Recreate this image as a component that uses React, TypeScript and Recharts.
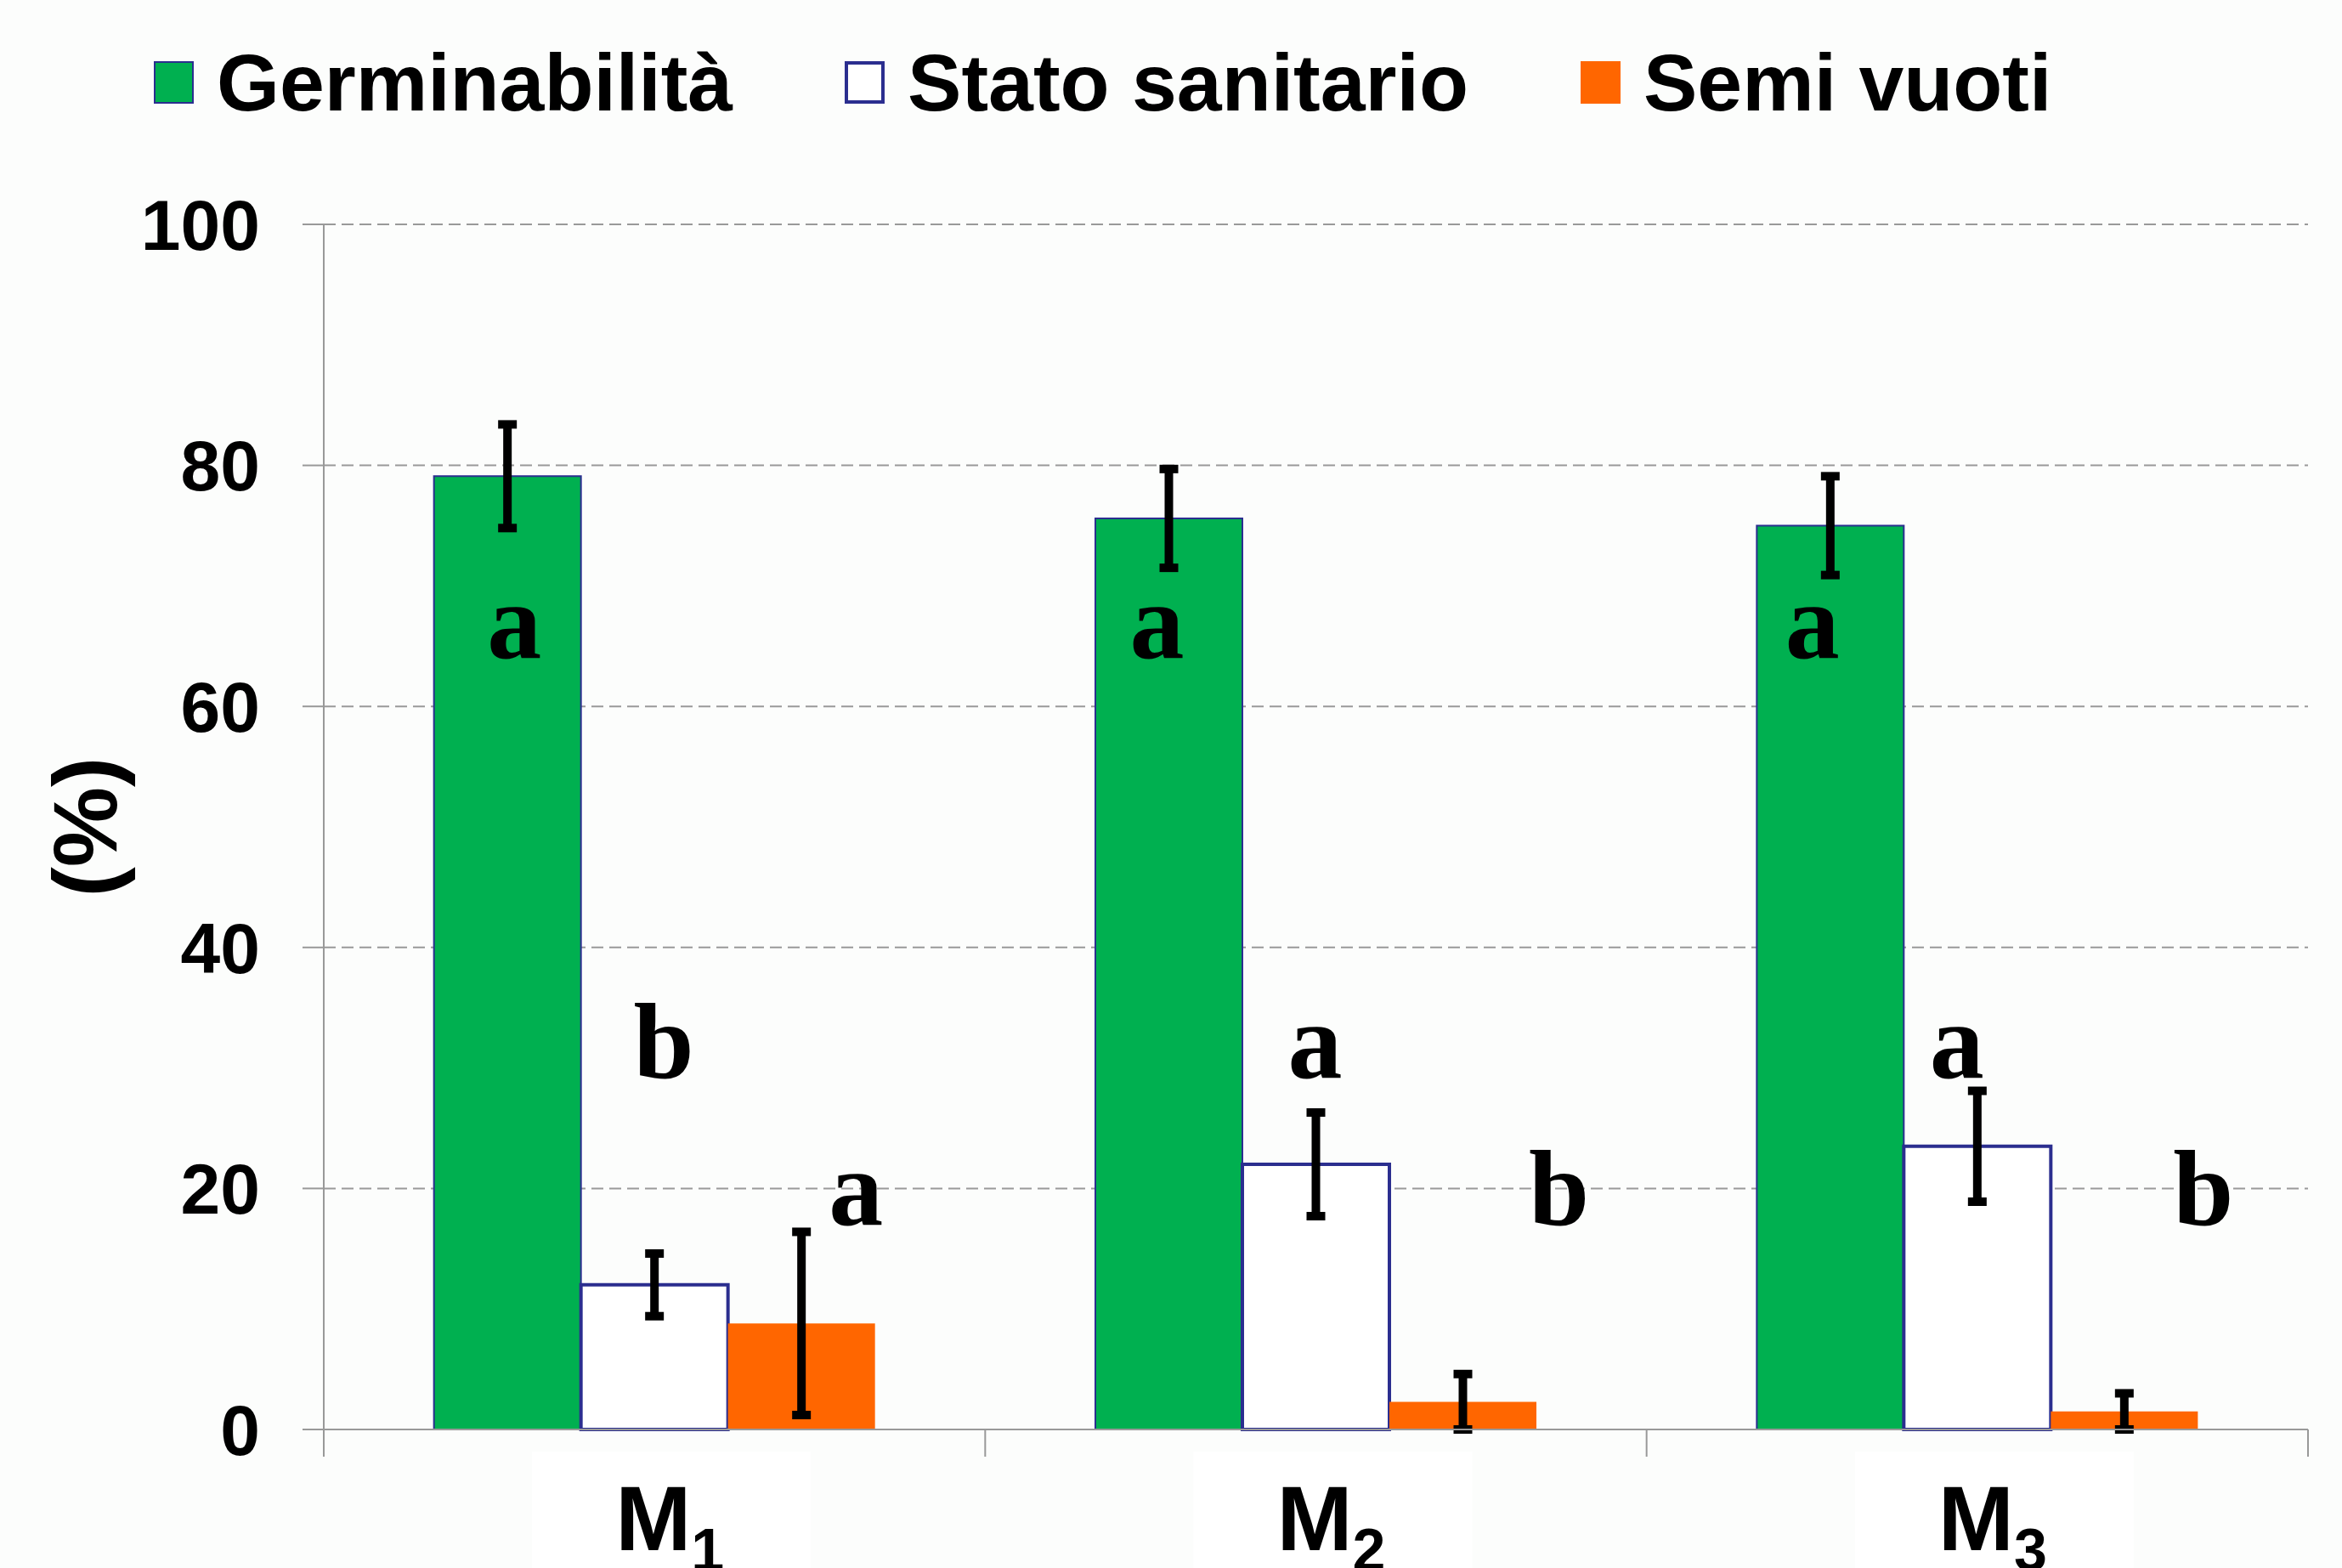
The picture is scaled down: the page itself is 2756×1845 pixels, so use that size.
import {
  Bar,
  BarChart,
  CartesianGrid,
  ErrorBar,
  LabelList,
  Legend,
  XAxis,
  YAxis,
} from "recharts";

// values (%)
const categories = ["M1", "M2", "M3"];
const germinabilita = [79.1, 75.6, 75.0];
const germinabilitaErr = [4.3, 4.1, 4.1];
const statoSanitario = [12.0, 22.0, 23.5];
const statoSanitarioErr = [2.6, 4.3, 4.6];
const semiVuoti = [8.8, 2.3, 1.5];
const semiVuotiErr = [7.6, 2.3, 1.5];

// significance letters
const lettersGerm = ["a", "a", "a"];
const lettersStato = ["b", "a", "a"];
const lettersSemi = ["a", "b", "b"];

const yTicks = [0, 20, 40, 60, 80, 100];

const GREEN = "#00b050";
const ORANGE = "#ff6600";
const NAVY = "#2b2e8f";
const GREY = "#999999";
const SANS = "'Liberation Sans', Arial, sans-serif";
const SERIF = "'Liberation Serif', 'Times New Roman', serif";

// horizontal nudge of each letter from its bar centre (px)
const dxGerm = [8, -14, -21];
const dxStato = [11, -1, -24];
const dxSemi = [64, 113, 93];

const data = categories.map((name, i) => ({
  name,
  germ: germinabilita[i],
  germErr: germinabilitaErr[i],
  stato: statoSanitario[i],
  statoErr: statoSanitarioErr[i],
  semi: semiVuoti[i],
  semiErr: semiVuotiErr[i],
}));

const legendItems = [
  { name: "Germinabilità", fill: GREEN, stroke: NAVY, sw: 2 },
  { name: "Stato sanitario", fill: "#ffffff", stroke: NAVY, sw: 4 },
  { name: "Semi vuoti", fill: ORANGE, stroke: "none", sw: 0 },
];

const LegendContent = () => (
  <div style={{ height: 180, paddingTop: 42, boxSizing: "border-box" }}>
    <div
      style={{
        display: "flex",
        alignItems: "center",
        height: 110,
        paddingLeft: 181,
        gap: 132,
        fontFamily: SANS,
        fontWeight: 700,
        fontSize: 95,
        color: "#000",
      }}
    >
      {legendItems.map((item) => (
        <div key={item.name} style={{ display: "flex", alignItems: "center", gap: 27 }}>
          <span
            style={{
              display: "inline-block",
              width: 47,
              height: 50,
              boxSizing: "border-box",
              background: item.fill,
              border: item.sw ? `${item.sw}px solid ${item.stroke}` : "none",
            }}
          />
          <span style={{ whiteSpace: "nowrap" }}>{item.name}</span>
        </div>
      ))}
    </div>
  </div>
);

// letter drawn at a fixed level (in % units) using the bar's own scale
const letterLabel = (letters: string[], level: number, dx: number[]) => (props: any) => {
  const vb = props.viewBox ?? props;
  const { x, y, width, height } = vb;
  const value = Number(props.value);
  if (!value || !height) return null;
  const bottom = y + height;
  const ly = bottom - (level * height) / value;
  return (
    <text
      x={x + width / 2 + dx[props.index]}
      y={ly}
      textAnchor="middle"
      fontFamily={SERIF}
      fontWeight={700}
      fontSize={128}
      fill="#000"
    >
      {letters[props.index]}
    </text>
  );
};

// category label plus tick marks on the category boundaries
const CategoryTick = (props: any) => {
  const { x, y, payload, index } = props;
  const label = String(payload.value);
  const half = Number(payload.offset) || 0;
  const last = index === categories.length - 1;
  return (
    <g>
      <rect x={x + 20 - 164} y={y + 26} width={328} height={200} fill="#ffffff" />
      {half > 0 && (
        <line x1={x - half} x2={x - half} y1={y} y2={y + 32} stroke={GREY} strokeWidth={2} />
      )}
      {half > 0 && last && (
        <line x1={x + half} x2={x + half} y1={y} y2={y + 32} stroke={GREY} strokeWidth={2} />
      )}
      <text
        x={x + 18}
        y={y + 142}
        textAnchor="middle"
        fontFamily={SANS}
        fontWeight={700}
        fontSize={107}
        fill="#000"
      >
        {label.slice(0, 1)}
        <tspan fontSize={70} dy={24}>
          {label.slice(1)}
        </tspan>
      </text>
    </g>
  );
};

const YLabel = (props: any) => {
  const vb = props.viewBox;
  const cx = vb.x + 108;
  const cy = vb.y + vb.height / 2;
  return (
    <text
      x={cx}
      y={cy}
      dy="0.27em"
      transform={`rotate(-90, ${cx}, ${cy})`}
      textAnchor="middle"
      fontFamily={SANS}
      fontWeight={700}
      fontSize={106}
      fill="#000"
    >
      (%)
    </text>
  );
};

export default function App() {
  return (
    <div
      style={{
        position: "absolute",
        left: 0,
        top: 0,
        width: 2756,
        height: 1845,
        background: "#fcfdfc",
        fontFamily: SANS,
      }}
    >
      <BarChart
        width={2756}
        height={1845}
        data={data}
        margin={{ top: 84, right: 40, bottom: 162, left: 0 }}
        barCategoryGap="16.66%"
        barGap={0}
      >
        <CartesianGrid
          vertical={false}
          stroke={GREY}
          strokeWidth={2}
          strokeDasharray="14 7"
        />
        <Legend
          verticalAlign="top"
          align="left"
          content={<LegendContent />}
          wrapperStyle={{ top: 0, left: 0, width: 2756 }}
        />
        <XAxis
          dataKey="name"
          height={1}
          tickLine={false}
          tickSize={0}
          tickMargin={0}
          axisLine={{ stroke: GREY, strokeWidth: 2 }}
          tick={<CategoryTick />}
          interval={0}
        />
        <YAxis
          domain={[0, 100]}
          ticks={yTicks}
          interval={0}
          width={381}
          tickSize={25}
          tickMargin={50}
          axisLine={{ stroke: GREY, strokeWidth: 2 }}
          tickLine={{ stroke: GREY, strokeWidth: 2 }}
          tick={{ fill: "#000", fontSize: 84, fontWeight: 700, fontFamily: SANS }}
          label={YLabel}
        />
        <Bar
          dataKey="germ"
          name="Germinabilità"
          fill={GREEN}
          stroke={NAVY}
          strokeWidth={2}
          isAnimationActive={false}
        >
          <ErrorBar dataKey="germErr" width={11} strokeWidth={10} stroke="#000" isAnimationActive={false} />
          <LabelList dataKey="germ" content={letterLabel(lettersGerm, 64, dxGerm)} />
        </Bar>
        <Bar
          dataKey="stato"
          name="Stato sanitario"
          fill="#ffffff"
          stroke={NAVY}
          strokeWidth={4}
          isAnimationActive={false}
        >
          <ErrorBar dataKey="statoErr" width={11} strokeWidth={10} stroke="#000" isAnimationActive={false} />
          <LabelList dataKey="stato" content={letterLabel(lettersStato, 29.2, dxStato)} />
        </Bar>
        <Bar dataKey="semi" name="Semi vuoti" fill={ORANGE} isAnimationActive={false}>
          <ErrorBar dataKey="semiErr" width={11} strokeWidth={10} stroke="#000" isAnimationActive={false} />
          <LabelList dataKey="semi" content={letterLabel(lettersSemi, 17, dxSemi)} />
        </Bar>
      </BarChart>
    </div>
  );
}
